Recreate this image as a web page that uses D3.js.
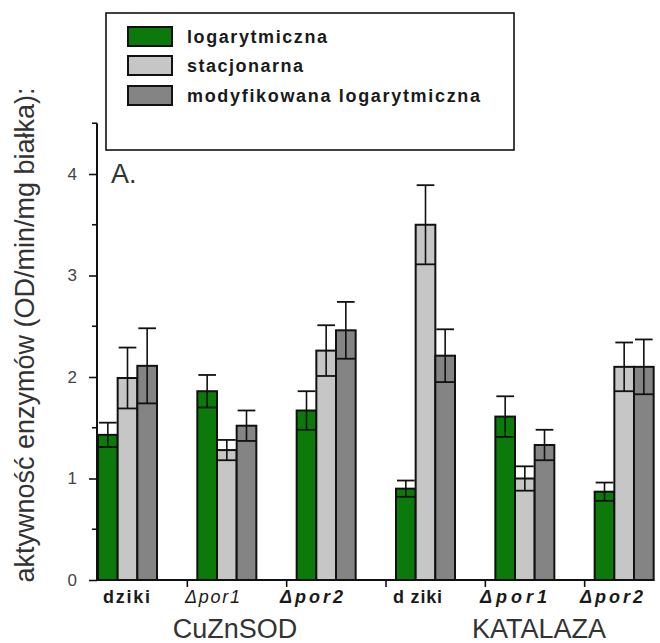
<!DOCTYPE html>
<html>
<head>
<meta charset="utf-8">
<script src="https://cdn.jsdelivr.net/npm/d3@7"></script>
<style>
  html, body { margin: 0; padding: 0; background: #fff; }
  svg { display: block; font-family: "Liberation Sans", Arial, sans-serif; }
</style>
</head>
<body>
<svg id="chart" width="660" height="643"></svg>
<script>
// Enzyme activity per strain, for three growth phases
const groups = ["CuZnSOD_dziki", "CuZnSOD_por1", "CuZnSOD_por2", "KAT_dziki", "KAT_por1", "KAT_por2"];
const groupLabels = ["dziki", "Δpor1", "Δpor2", "d ziki", "Δpor1", "Δpor2"];
const series = ["logarytmiczna", "stacjonarna", "modyfikowana logarytmiczna"];
const seriesColors = ["#0b7a0b", "#c6c6c6", "#848484"];

const logValues  = [1.43, 1.86, 1.67, 0.90, 1.61, 0.87];
const logErrors  = [0.12, 0.16, 0.19, 0.08, 0.20, 0.09];
const statValues = [1.99, 1.28, 2.26, 3.50, 1.00, 2.10];
const statErrors = [0.30, 0.10, 0.25, 0.39, 0.12, 0.24];
const modValues  = [2.11, 1.52, 2.46, 2.21, 1.33, 2.10];
const modErrors  = [0.37, 0.15, 0.28, 0.26, 0.15, 0.27];

const yMajorTicks = [0, 1, 2, 3, 4];
const yMinorTicks = [0.5, 1.5, 2.5, 3.5, 4.5];
const enzymes = ["CuZnSOD", "KATALAZA"];

const values = [logValues, statValues, modValues];
const errors = [logErrors, statErrors, modErrors];

const svg = d3.select("#chart");

const y = d3.scaleLinear().domain([0, 4.5]).range([580, 123.25]);
const x = d3.scaleBand().domain(groups).range([88, 684]).padding(0);
const xs = d3.scaleBand().domain(series).range([10, 69]).padding(0);

// bars with symmetric error bars
const g = svg.append("g");
groups.forEach((grp, gi) => {
  series.forEach((s, si) => {
    const v = values[si][gi];
    const e = errors[si][gi];
    const x0 = x(grp) + xs(s);
    const w = xs.bandwidth();
    g.append("rect")
      .attr("x", x0).attr("y", y(v))
      .attr("width", w).attr("height", y(0) - y(v))
      .attr("fill", seriesColors[si])
      .attr("stroke", "#111").attr("stroke-width", 2);
    const cx = x0 + w / 2;
    g.append("line")
      .attr("x1", cx).attr("x2", cx)
      .attr("y1", y(v - e)).attr("y2", y(v + e))
      .attr("stroke", "#111").attr("stroke-width", 1.6);
    g.append("line")
      .attr("x1", x0 + 1).attr("x2", x0 + w - 1)
      .attr("y1", y(v + e)).attr("y2", y(v + e))
      .attr("stroke", "#111").attr("stroke-width", 1.8);
    g.append("line")
      .attr("x1", x0).attr("x2", x0 + w)
      .attr("y1", y(v - e)).attr("y2", y(v - e))
      .attr("stroke", "#111").attr("stroke-width", 1.8);
  });
});

// y axis
const yAxis = d3.axisLeft(y).tickValues(yMajorTicks).tickSize(8).tickPadding(12)
  .tickFormat(d3.format("d"));
const ya = svg.append("g").attr("transform", "translate(97,0)").call(yAxis);
ya.select(".domain").remove();
ya.selectAll(".tick line").attr("stroke", "#111").attr("stroke-width", 1.6);
ya.selectAll(".tick text").attr("font-size", 17).attr("fill", "#444")
  .attr("font-family", "Liberation Sans, Arial, sans-serif");
svg.append("line").attr("x1", 97).attr("x2", 97).attr("y1", y(4.5)).attr("y2", y(0))
  .attr("stroke", "#111").attr("stroke-width", 2);
svg.selectAll(".minor").data(yMinorTicks).enter().append("line")
  .attr("x1", 92).attr("x2", 97).attr("y1", d => y(d)).attr("y2", d => y(d))
  .attr("stroke", "#111").attr("stroke-width", 1.6);

// x axis
svg.append("line").attr("x1", 97).attr("x2", x(groups[5]) + 69).attr("y1", y(0)).attr("y2", y(0))
  .attr("stroke", "#111").attr("stroke-width", 2);
svg.selectAll(".sep").data(groups.slice(1)).enter().append("line")
  .attr("x1", d => x(d)).attr("x2", d => x(d))
  .attr("y1", y(0)).attr("y2", y(0) + 7)
  .attr("stroke", "#111").attr("stroke-width", 1.6);

// group labels
const labelStyle = [
  { w: 47, weight: "bold", style: "normal" },
  { w: 55, weight: "normal", style: "italic" },
  { w: 63, weight: "bold", style: "italic" },
  { w: 49, weight: "bold", style: "normal" },
  { w: 67, weight: "bold", style: "italic" },
  { w: 63, weight: "bold", style: "italic" }
];
const labelCenters = [126.5, 212.5, 311.5, 417.5, 513.5, 611.5];
groups.forEach((grp, gi) => {
  const st = labelStyle[gi];
  svg.append("text")
    .attr("x", labelCenters[gi] - st.w / 2).attr("y", 603)
    .attr("font-size", 18).attr("font-weight", st.weight).attr("font-style", st.style)
    .attr("fill", "#1a1a1a")
    .attr("textLength", st.w).attr("lengthAdjust", "spacing")
    .text(groupLabels[gi]);
});

// enzyme names under the groups
svg.append("text").attr("x", 235).attr("y", 638).attr("text-anchor", "middle")
  .attr("font-size", 27).attr("fill", "#333").text(enzymes[0]);
svg.append("text").attr("x", 539).attr("y", 638).attr("text-anchor", "middle")
  .attr("font-size", 27).attr("fill", "#333").text(enzymes[1]);

// y axis title
svg.append("text")
  .attr("transform", "translate(34,335) rotate(-90)")
  .attr("text-anchor", "middle")
  .attr("font-size", 27).attr("fill", "#333")
  .attr("textLength", 495).attr("lengthAdjust", "spacingAndGlyphs")
  .text("aktywność enzymów (OD/min/mg białka):");

// panel letter
svg.append("text").attr("x", 111).attr("y", 183)
  .attr("font-size", 27).attr("fill", "#333").text("A.");

// legend
const leg = svg.append("g");
leg.append("rect").attr("x", 106).attr("y", 13).attr("width", 408).attr("height", 137)
  .attr("fill", "#fff").attr("stroke", "#111").attr("stroke-width", 1.6);
const legRowsY = [27, 56, 86];
const legTextW = [140, 116, 293];
series.forEach((s, i) => {
  leg.append("rect").attr("x", 128).attr("y", legRowsY[i]).attr("width", 44).attr("height", 19)
    .attr("fill", seriesColors[i]).attr("stroke", "#111").attr("stroke-width", 2);
  leg.append("text").attr("x", 187).attr("y", legRowsY[i] + 16)
    .attr("font-size", 18).attr("font-weight", "bold").attr("fill", "#1a1a1a")
    .attr("textLength", legTextW[i]).attr("lengthAdjust", "spacing")
    .text(s);
});
</script>
</body>
</html>
